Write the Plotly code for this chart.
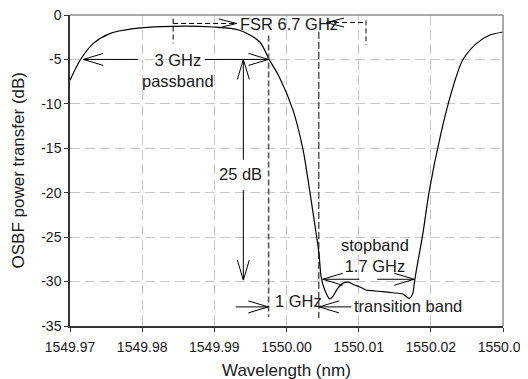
import plotly.graph_objects as go

# ---------------- data ----------------
wavelength_nm = [
    1549.9700, 1549.9714, 1549.9732, 1549.9755, 1549.9788, 1549.9843, 1549.9898,
    1549.9935, 1549.9963, 1549.9976, 1549.9990, 1550.0009, 1550.0023, 1550.0032,
    1550.0039, 1550.0045, 1550.0048, 1550.0053, 1550.0060, 1550.0064, 1550.0071,
    1550.0078, 1550.0087, 1550.0094, 1550.0101, 1550.0110, 1550.0119, 1550.0133,
    1550.0147, 1550.0161, 1550.0170, 1550.0175, 1550.0177, 1550.0180, 1550.0189,
    1550.0198, 1550.0214, 1550.0228, 1550.0244, 1550.0263, 1550.0281, 1550.0300,
]
transfer_db = [
    -7.34, -5.09, -3.22, -2.09, -1.53, -1.27, -1.35,
    -1.72, -3.04, -5.01, -6.97, -10.71, -15.21, -19.71,
    -23.45, -26.83, -29.46, -30.95, -31.96, -31.70, -30.76,
    -30.20, -30.09, -30.39, -30.58, -30.95, -31.03, -31.14,
    -31.26, -31.40, -31.89, -31.33, -30.20, -28.70, -24.58,
    -19.71, -13.33, -8.84, -5.09, -3.22, -2.28, -1.91,
]

x_tick_values = [1549.97, 1549.98, 1549.99, 1550.00, 1550.01, 1550.02, 1550.03]
x_tick_labels = ["1549.97", "1549.98", "1549.99", "1550.00", "1550.01", "1550.02", "1550.03"]
y_tick_values = [0, -5, -10, -15, -20, -25, -30, -35]
y_tick_labels = ["0", "-5", "-10", "-15", "-20", "-25", "-30", "-35"]

# ---------------- layout geometry ----------------
# the page body has an 8px default margin, so the figure is drawn 8px in
W, H = 528 - 8, 379 - 8
MARGIN = dict(l=62, r=25, t=7, b=53)
X_RANGE = [1549.97, 1550.03]
Y_RANGE = [-35, 0]
PW = W - MARGIN["l"] - MARGIN["r"]
PH = H - MARGIN["t"] - MARGIN["b"]
SX = PW / (X_RANGE[1] - X_RANGE[0])   # px per nm
SY = PH / (Y_RANGE[1] - Y_RANGE[0])   # px per dB

FONT = "Liberation Sans, Arial, Helvetica, sans-serif"
TXT = "#1a1a1a"

shapes = []


def seg(x0, y0, x1, y1, color="black", width=1, dash="solid"):
    shapes.append(dict(type="line", xref="x", yref="y", x0=x0, y0=y0, x1=x1, y1=y1,
                       line=dict(color=color, width=width, dash=dash)))


def head(tx, ty, direction, L=20, Wd=6, color="black", width=1):
    if direction == "right":
        a1 = (tx - L / SX, ty + Wd / SY)
        a2 = (tx - L / SX, ty - Wd / SY)
    elif direction == "left":
        a1 = (tx + L / SX, ty + Wd / SY)
        a2 = (tx + L / SX, ty - Wd / SY)
    elif direction == "up":
        a1 = (tx - Wd / SX, ty - L / SY)
        a2 = (tx + Wd / SX, ty - L / SY)
    else:  # down
        a1 = (tx - Wd / SX, ty + L / SY)
        a2 = (tx + Wd / SX, ty + L / SY)
    path = f"M {a1[0]:.6f},{a1[1]:.4f} L {tx:.6f},{ty:.4f} L {a2[0]:.6f},{a2[1]:.4f}"
    shapes.append(dict(type="path", xref="x", yref="y", path=path,
                       line=dict(color=color, width=width)))


# dashed vertical markers
seg(1549.99752, -2.3, 1549.99752, -34.0, color="#555555", width=1.6, dash="6px,3px")
seg(1550.00448, -1.9, 1550.00448, -34.1, color="black", width=1, dash="7px,3px")

# 3 GHz passband double arrow
seg(1549.97184, -5.0, 1549.97941, -5.0)
seg(1549.98867, -5.0, 1549.99750, -5.0)
head(1549.97184, -5.0, "left")
head(1549.99750, -5.0, "right")

# 25 dB vertical double arrow
seg(1549.99402, -5.0, 1549.99402, -16.3)
seg(1549.99402, -19.7, 1549.99402, -29.83)
head(1549.99402, -5.0, "up")
head(1549.99402, -29.83, "down")

# FSR dashed arrows
seg(1549.98429, -0.95, 1549.99309, -0.95, dash="5px,3px")
head(1549.99309, -0.95, "right", L=18, Wd=4.5)
seg(1550.00549, -0.85, 1550.01102, -0.85, dash="5px,3px")
head(1550.00549, -0.85, "left", L=18, Wd=4.5)
seg(1549.98429, -0.4, 1549.98429, -3.2, dash="5px,3px")
seg(1550.01102, -0.6, 1550.01102, -3.4, dash="5px,3px")

# 1 GHz / transition band arrows
seg(1549.99296, -32.85, 1549.99748, -32.85)
head(1549.99748, -32.85, "right")
seg(1550.00452, -32.85, 1550.00899, -32.85)
head(1550.00452, -32.85, "left")

# stopband double arrow
seg(1550.00502, -29.74, 1550.01009, -29.74)
seg(1550.01258, -29.74, 1550.01770, -29.74)
head(1550.00502, -29.74, "left")
head(1550.01770, -29.74, "right")

# top and right frame (light gray)
shapes.append(dict(type="line", xref="paper", yref="paper", x0=0, y0=1, x1=1, y1=1,
                   line=dict(color="#8c8c8c", width=1.5)))
shapes.append(dict(type="line", xref="paper", yref="paper", x0=1, y0=0, x1=1, y1=1,
                   line=dict(color="#8c8c8c", width=1.5)))

ann_font = dict(family=FONT, size=16.5, color=TXT)


def text(x, y, s, xanchor="center"):
    return dict(x=x, y=y, xref="x", yref="y", text=s, showarrow=False,
                xanchor=xanchor, yanchor="middle", font=ann_font)


annotations = [
    text(1549.98500, -6.2, "3 GHz<br>passband"),
    text(1549.99364, -17.9, "25 dB"),
    text(1549.99327, -1.0, "FSR 6.7 GHz", xanchor="left"),
    text(1549.99807, -32.2, "1 GHz", xanchor="left"),
    text(1550.00906, -32.75, "transition band", xanchor="left"),
    text(1550.01220, -27.1, "stopband<br>1.7 GHz"),
    # axis titles
    dict(x=0.5, y=0, xref="paper", yref="paper", text="Wavelength (nm)", showarrow=False,
         xanchor="center", yanchor="middle", yshift=-44,
         font=dict(family=FONT, size=17, color=TXT)),
    dict(x=0, y=0.5, xref="paper", yref="paper", text="OSBF power transfer (dB)", showarrow=False,
         xanchor="center", yanchor="middle", xshift=-52, textangle=-90,
         font=dict(family=FONT, size=17, color=TXT)),
]

fig = go.Figure()
fig.add_trace(go.Scatter(
    x=wavelength_nm, y=transfer_db, mode="lines",
    line=dict(color="black", width=1.2, shape="spline", smoothing=0.8),
    hoverinfo="skip", showlegend=False,
))

axis_common = dict(
    showgrid=True, gridcolor="#c8c8c8", gridwidth=1, griddash="10px,5px",
    zeroline=False, ticks="outside", ticklen=4, tickcolor="#333333",
    showline=True, linecolor="#333333", linewidth=1.5, automargin=False,
    ticklabeloverflow="allow",
    tickfont=dict(family=FONT, size=14, color=TXT),
)

fig.update_layout(
    width=W, height=H, margin=MARGIN,
    paper_bgcolor="white", plot_bgcolor="white",
    showlegend=False,
    xaxis=dict(range=X_RANGE, tickvals=x_tick_values, ticktext=x_tick_labels,
               ticklabelstandoff=3, **axis_common),
    yaxis=dict(range=Y_RANGE, tickvals=y_tick_values, ticktext=y_tick_labels, **axis_common),
    shapes=shapes,
    annotations=annotations,
)

fig.write_html("out.html")
